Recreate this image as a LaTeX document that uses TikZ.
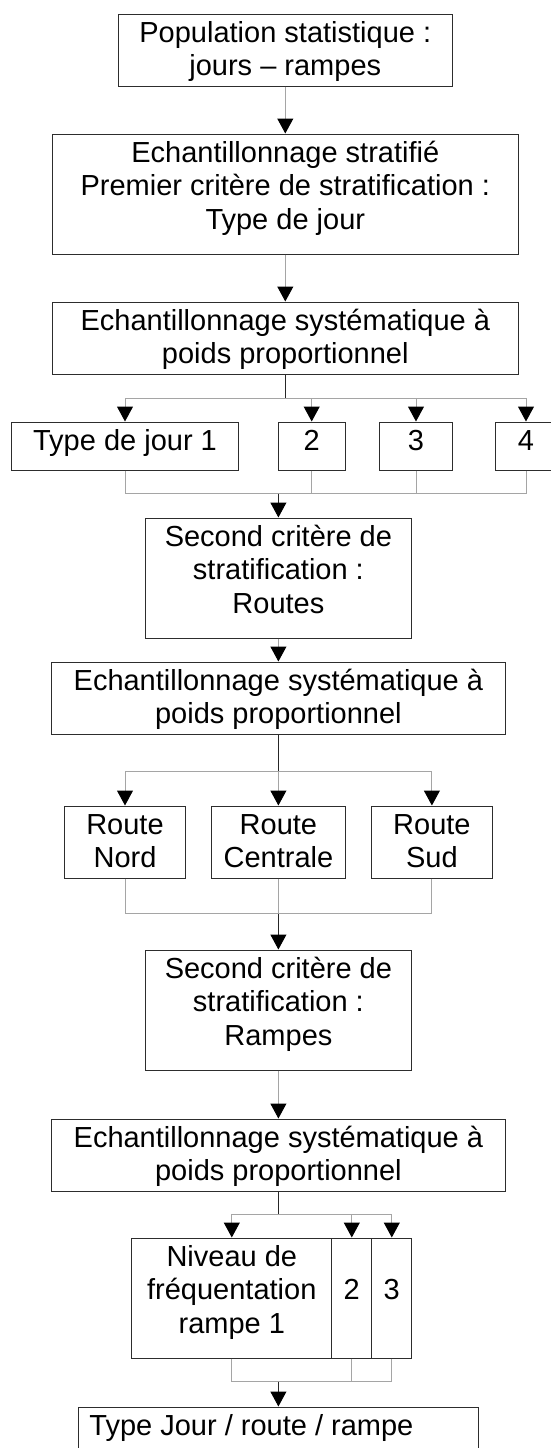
\documentclass[tikz,border=0pt]{standalone}
\usepackage{fontspec}
\setmainfont{Liberation Sans}
\usetikzlibrary{arrows.meta}
\definecolor{BoxGray}{RGB}{45,45,45}
\definecolor{LinkGray}{RGB}{165,165,165}
\newcommand{\boxtext}[4][\centering]{\parbox[c][#3][t]{#2}{#1\rule{0pt}{28pt}#4}}

\begin{document}
\begin{tikzpicture}
    [x=1pt,y=-1pt,
     box/.style={draw=BoxGray,line width=1pt,inner sep=0pt,font=\fontsize{29}{33.5}\selectfont},
     link/.style={draw=LinkGray,line width=1pt},
     trunk/.style={draw=black!85,line width=1pt},
     tip/.style={-{Triangle[width=16pt,length=15pt,color=black]}},
    ]
    \useasboundingbox (0,0) rectangle (551,1448);
    \clip (0,0) rectangle (551,1448);

    \node[box] (pop) at (285.3,50) {\boxtext{334pt}{72pt}{Population statistique :\\jours – rampes}};
    \node[box] (strat) at (285.3,194) {\boxtext{466pt}{120pt}{Echantillonnage stratifié\\Premier critère de stratification :\\Type de jour}};
    \node[box] (sys1) at (285.3,338) {\boxtext{466pt}{72pt}{Echantillonnage systématique à\\poids proportionnel}};

    \node[box] (tj1) at (125,446) {\boxtext{226.7pt}{48pt}{Type de jour 1}};
    \node[box] (tj2) at (311.7,446) {\boxtext{66.8pt}{48pt}{2}};
    \node[box] (tj3) at (416,446) {\boxtext{72.3pt}{48pt}{3}};
    \node[box] (tj4) at (526,446) {\boxtext{62pt}{48pt}{4}};

    \node[box] (routes) at (278.4,578) {\boxtext{266.7pt}{120pt}{Second critère de\\stratification :\\Routes}};
    \node[box] (sys2) at (278.4,698) {\boxtext{453.3pt}{72pt}{Echantillonnage systématique à\\poids proportionnel}};

    \node[box] (nord) at (125,842) {\boxtext{120.5pt}{72pt}{Route\\Nord}};
    \node[box] (centr) at (278.4,842) {\boxtext{133.6pt}{72pt}{Route\\Centrale}};
    \node[box] (sud) at (431.9,842) {\boxtext{120.2pt}{72pt}{Route\\Sud}};

    \node[box] (rampes) at (278.4,1010) {\boxtext{266.7pt}{120pt}{Second critère de\\stratification :\\Rampes}};
    \node[box] (sys3) at (278.4,1155) {\boxtext{453.3pt}{72pt}{Echantillonnage systématique à\\poids proportionnel}};

    \node[box] (niv1) at (231.8,1298) {\boxtext{200pt}{120pt}{Niveau de\\fréquentation\\rampe 1}};
    \node[box] (niv2) at (351.8,1298) {\boxtext{40pt}{120pt}{\\2}};
    \node[box] (niv3) at (391.8,1298) {\boxtext{40pt}{120pt}{\\3}};

    \node[box] (final) at (278.4,1443) {\boxtext[\raggedright\hspace*{11pt}]{400pt}{72pt}{Type Jour / route / rampe}};

    \draw[link,tip] (pop) -- (strat);
    \draw[link,tip] (strat) -- (sys1);

    \draw[trunk] (sys1.south) -- ++(0,24) coordinate (s1);
    \foreach \n in {tj1,tj2,tj3,tj4} \draw[link,tip] (s1) -| (\n.north);
    \coordinate (m1) at ([yshift=24pt]routes.north);
    \foreach \n in {tj1,tj2,tj3,tj4} \draw[link] (\n.south) |- (m1);
    \draw[trunk,tip] (m1) -- (routes);

    \draw[link,tip] (routes) -- (sys2);

    \draw[trunk] (sys2.south) -- ++(0,37) coordinate (s2);
    \foreach \n in {nord,centr,sud} \draw[link,tip] (s2) -| (\n.north);
    \coordinate (m2) at ([yshift=36pt]rampes.north);
    \foreach \n in {nord,centr,sud} \draw[link] (\n.south) |- (m2);
    \draw[trunk,tip] (m2) -- (rampes);

    \draw[link,tip] (rampes) -- (sys3);

    \draw[trunk] (sys3.south) -- ++(0,23) coordinate (s3);
    \foreach \n in {niv1,niv2,niv3} \draw[link,tip] (s3) -| (\n.north);
    \coordinate (m3) at ([yshift=25pt]final.north);
    \foreach \n in {niv1,niv2,niv3} \draw[link] (\n.south) |- (m3);
    \draw[trunk,tip] (m3) -- (final);
\end{tikzpicture}
\end{document}
